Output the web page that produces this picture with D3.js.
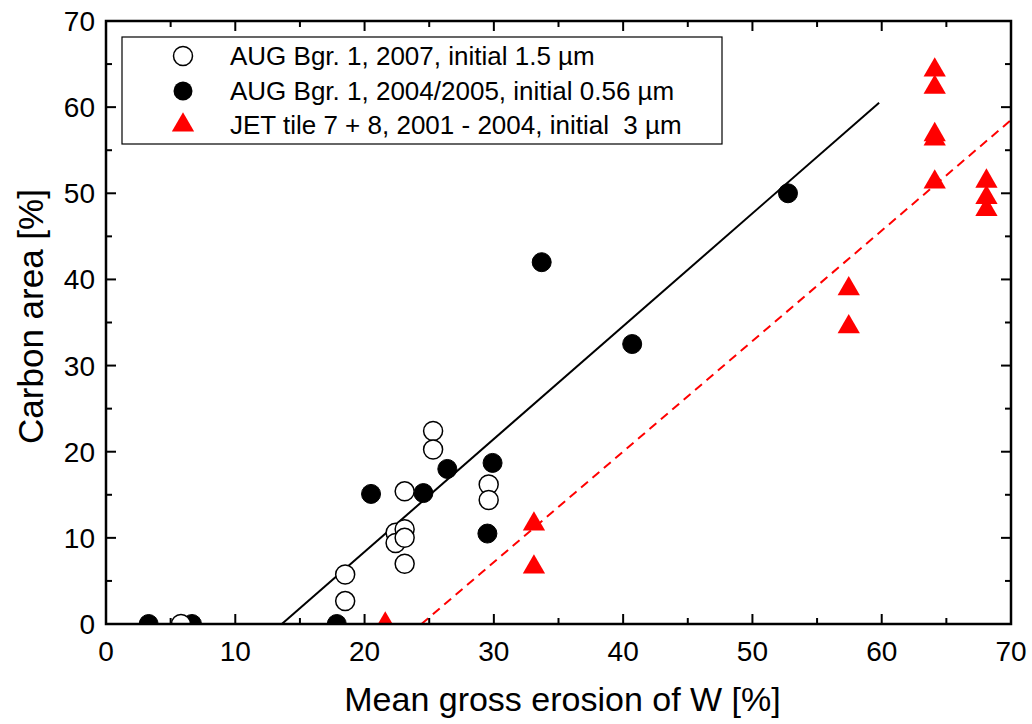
<!DOCTYPE html>
<html>
<head>
<meta charset="utf-8">
<script src="https://cdn.jsdelivr.net/npm/d3@7"></script>
<style>
  html, body { margin: 0; padding: 0; background: #fff; }
  svg text { font-family: "Liberation Sans", Arial, sans-serif; fill: #000; }
</style>
</head>
<body>
<svg id="chart" width="1032" height="724"></svg>
<script>
// ---- data ----
const aug2007X = [5.8, 18.5, 18.5, 22.4, 22.4, 23.1, 23.1, 23.1, 23.1, 25.3, 25.3, 29.6, 29.6];
const aug2007Y = [0, 5.75, 2.66, 10.6, 9.4, 11.0, 10.0, 7.0, 15.4, 22.4, 20.25, 16.2, 14.4];

const aug2004X = [3.3, 6.65, 17.85, 20.5, 24.55, 26.4, 29.9, 29.5, 33.7, 40.7, 52.75];
const aug2004Y = [0, 0, 0, 15.1, 15.2, 18.0, 18.7, 10.5, 42.0, 32.5, 50.0];

const jetX = [21.6, 33.1, 33.1, 57.45, 57.45, 64.1, 64.1, 64.1, 64.1, 64.1, 68.1, 68.1, 68.1];
const jetY = [0, 11.6, 6.6, 38.9, 34.5, 64.3, 62.3, 56.8, 56.3, 51.3, 51.4, 49.5, 48.1];

const fitAugX = [13.6, 59.8];
const fitAugY = [0, 60.5];
const fitJetX = [24.4, 70];
const fitJetY = [0, 58.5];

const xTicks = [0, 10, 20, 30, 40, 50, 60, 70];
const yTicks = [0, 10, 20, 30, 40, 50, 60, 70];
const minorTicks = [5, 15, 25, 35, 45, 55, 65];

const legendLabels = [
  "AUG Bgr. 1, 2007, initial 1.5 \u00b5m",
  "AUG Bgr. 1, 2004/2005, initial 0.56 \u00b5m",
  "JET tile 7 + 8, 2001 - 2004, initial  3 \u00b5m"
];
const xTitle = "Mean gross erosion of W [%]";
const yTitle = "Carbon area [%]";

// ---- layout ----
const L = 106, R = 1011, T = 21, B = 624;
const svg = d3.select("#chart");
const x = d3.scaleLinear().domain([0, 70]).range([L, R]);
const y = d3.scaleLinear().domain([0, 70]).range([B, T]);

svg.append("defs").append("clipPath").attr("id", "plotclip")
  .append("rect").attr("x", L).attr("y", T).attr("width", R - L).attr("height", B - T);

const plot = svg.append("g").attr("clip-path", "url(#plotclip)");

// fit lines
const line = d3.line().x(d => x(d[0])).y(d => y(d[1]));
plot.append("path").datum(fitAugX.map((v, i) => [v, fitAugY[i]]))
  .attr("d", line).attr("fill", "none").attr("stroke", "#000").attr("stroke-width", 2);
plot.append("path").datum(fitJetX.map((v, i) => [v, fitJetY[i]]))
  .attr("d", line).attr("fill", "none").attr("stroke", "#ff0000").attr("stroke-width", 2)
  .attr("stroke-dasharray", "9,6");

const r = 9.5;
// filled circles
plot.selectAll(".filled").data(aug2004X.map((v, i) => [v, aug2004Y[i]])).enter()
  .append("circle").attr("cx", d => x(d[0])).attr("cy", d => y(d[1])).attr("r", r)
  .attr("fill", "#000").attr("stroke", "#000").attr("stroke-width", 1);
// open circles
plot.selectAll(".open").data(aug2007X.map((v, i) => [v, aug2007Y[i]])).enter()
  .append("circle").attr("cx", d => x(d[0])).attr("cy", d => y(d[1])).attr("r", r)
  .attr("fill", "#fff").attr("stroke", "#000").attr("stroke-width", 1.5);
// triangles
const tri = d3.symbol().type(d3.symbolTriangle).size(215);
plot.selectAll(".tri").data(jetX.map((v, i) => [v, jetY[i]])).enter()
  .append("path").attr("d", tri)
  .attr("transform", d => `translate(${x(d[0])},${y(d[1])})`)
  .attr("fill", "#ff0000");

// axes: frame + ticks
const axG = svg.append("g");
const major = 10, minor = 6;
function ticks(vals, len) {
  vals.forEach(v => {
    axG.append("line").attr("x1", x(v)).attr("x2", x(v)).attr("y1", B).attr("y2", B - len);
    axG.append("line").attr("x1", x(v)).attr("x2", x(v)).attr("y1", T).attr("y2", T + len);
    axG.append("line").attr("y1", y(v)).attr("y2", y(v)).attr("x1", L).attr("x2", L + len);
    axG.append("line").attr("y1", y(v)).attr("y2", y(v)).attr("x1", R).attr("x2", R - len);
  });
}
ticks(xTicks, major);
ticks(minorTicks, minor);
axG.selectAll("line").attr("stroke", "#000").attr("stroke-width", 2);
axG.append("rect").attr("x", L).attr("y", T).attr("width", R - L).attr("height", B - T)
  .attr("fill", "none").attr("stroke", "#000").attr("stroke-width", 2.5);

// tick labels
svg.append("g").selectAll("text").data(xTicks).enter().append("text")
  .attr("x", d => x(d)).attr("y", B + 37).attr("text-anchor", "middle")
  .style("font-size", "28px").text(d => d);
svg.append("g").selectAll("text").data(yTicks).enter().append("text")
  .attr("x", L - 11).attr("y", d => y(d) + 10).attr("text-anchor", "end")
  .style("font-size", "28px").text(d => d);

// axis titles
svg.append("text").attr("x", (L + R) / 2 + 4).attr("y", 711).attr("text-anchor", "middle")
  .style("font-size", "34px").text(xTitle);
svg.append("text").attr("transform", `translate(43,${(T + B) / 2 - 6}) rotate(-90)`)
  .attr("text-anchor", "middle").style("font-size", "35px").text(yTitle);

// legend
const lg = svg.append("g");
lg.append("rect").attr("x", 122).attr("y", 37).attr("width", 600).attr("height", 107)
  .attr("fill", "#fff").attr("stroke", "#000").attr("stroke-width", 1.2);
const rows = [56, 91, 125];
lg.append("circle").attr("cx", 183).attr("cy", rows[0]).attr("r", r)
  .attr("fill", "#fff").attr("stroke", "#000").attr("stroke-width", 1.5);
lg.append("circle").attr("cx", 183).attr("cy", rows[1]).attr("r", r)
  .attr("fill", "#000");
lg.append("path").attr("d", tri).attr("transform", `translate(183,${rows[2]})`).attr("fill", "#ff0000");
lg.selectAll(".lt").data(legendLabels).enter().append("text")
  .attr("x", 230).attr("y", (d, i) => rows[i] + 9)
  .style("font-size", "26px").style("white-space", "pre").attr("xml:space", "preserve").text(d => d);
</script>
</body>
</html>
